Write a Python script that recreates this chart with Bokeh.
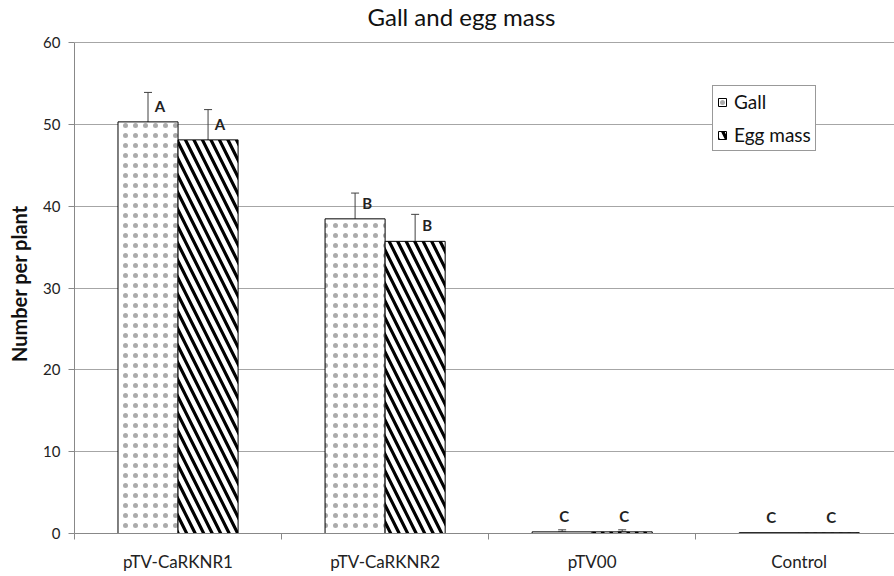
from bokeh.plotting import figure
from bokeh.models import ColumnDataSource, Whisker, FixedTicker, Range1d, TeeHead
from bokeh.core.properties import value
from bokeh.embed import file_html
from bokeh.resources import INLINE

# ---- data ----
categories = ["pTV-CaRKNR1", "pTV-CaRKNR2", "pTV00", "Control"]
gall = [50.3, 38.45, 0.2, 0.1]
gall_low = [44.9, 33.8, 0.2, 0.1]
gall_high = [53.9, 41.6, 0.45, 0.1]
egg = [48.1, 35.7, 0.2, 0.1]
egg_low = [44.9, 30.1, 0.2, 0.1]
egg_high = [51.8, 39.0, 0.45, 0.1]
gall_letters = ["A", "B", "C", "C"]
egg_letters = ["A", "B", "C", "C"]
y_ticks = [0, 10, 20, 30, 40, 50, 60]

FONT = "Lato"
BAR_W = 0.29
SHIFT = 0.145

centers = list(range(1, len(categories) + 1))
gall_x = [c - SHIFT for c in centers]
egg_x = [c + SHIFT for c in centers]

p = figure(width=894, height=576, output_backend="svg", toolbar_location=None,
           x_range=Range1d(0.5, 0.5 + 3.96), y_range=Range1d(0, 61.1),
           min_border_left=74, min_border_right=0, min_border_top=0,
           min_border_bottom=43, title="Gall and egg mass")
p.outline_line_color = None
p.background_fill_color = "white"

p.title.align = "left"
p.title.offset = 293
p.title.vertical_align = "top"
p.title.standoff = 2
p.title.text_font = FONT
p.title.text_font_size = "24px"
p.title.text_font_style = "normal"
p.title.text_color = "#111111"

# bars
p.vbar(x=gall_x, top=gall, bottom=0, width=BAR_W, fill_color="white",
       line_color="black", line_width=1, hatch_pattern="dot", hatch_color="#ababab",
       hatch_scale=10, hatch_weight=0.5, legend_label="Gall")
p.vbar(x=egg_x, top=egg, bottom=0, width=BAR_W, fill_color="white",
       line_color="black", line_width=1, hatch_pattern="left_diagonal_line",
       hatch_color="black", hatch_scale=17, hatch_weight=3.2, legend_label="Egg mass")

# error bars (only where they have length)
ex, elo, ehi = [], [], []
for xs, lo, hi in ((gall_x, gall_low, gall_high), (egg_x, egg_low, egg_high)):
    for x, l, h in zip(xs, lo, hi):
        if h > l:
            ex.append(x); elo.append(l); ehi.append(h)
err_src = ColumnDataSource(data=dict(x=ex, lower=elo, upper=ehi))
p.add_layout(Whisker(source=err_src, base="x", lower="lower", upper="upper",
                     line_color="#404040", line_width=1,
                     upper_head=TeeHead(size=8, line_color="#404040", line_width=1),
                     lower_head=TeeHead(size=8, line_color="#404040", line_width=1)))

# significance letters
lx, ly, lt, lo_ = [], [], [], []
for xs, vals, lo, hi, letters in ((gall_x, gall, gall_low, gall_high, gall_letters),
                                  (egg_x, egg, egg_low, egg_high, egg_letters)):
    for x, v, l, h, t in zip(xs, vals, lo, hi, letters):
        lx.append(x); ly.append(v); lt.append(t)
        lo_.append(12 if (h - l) > 1 else 2)
p.text(x=lx, y=ly, text=lt, x_offset=lo_, y_offset=-7, text_align="center",
       text_baseline="bottom", text_font=value(FONT), text_font_style="bold",
       text_font_size="15px", text_color="#222222")

# axes
p.xgrid.visible = False
p.ygrid.grid_line_color = "#a6a6a6"
p.ygrid.ticker = FixedTicker(ticks=y_ticks)

xa = p.xaxis[0]
xa.ticker = FixedTicker(ticks=centers, minor_ticks=[c - 0.5 for c in centers])
xa.major_label_overrides = {c: name for c, name in zip(centers, categories)}
xa.major_tick_line_color = None
xa.major_tick_out = 0
xa.major_tick_in = 0
xa.minor_tick_out = 6
xa.minor_tick_in = 0
xa.minor_tick_line_color = "#888888"
xa.axis_line_color = "#888888"
xa.major_label_standoff = 11
xa.major_label_text_font = FONT
xa.major_label_text_font_size = "17px"
xa.major_label_text_color = "#222222"

ya = p.yaxis[0]
ya.ticker = FixedTicker(ticks=y_ticks)
ya.bounds = (0, 60)
ya.minor_tick_line_color = None
ya.major_tick_out = 6
ya.major_tick_in = 0
ya.major_tick_line_color = "#888888"
ya.axis_line_color = "#888888"
ya.major_label_standoff = 8
ya.major_label_text_font = FONT
ya.major_label_text_font_size = "15px"
ya.major_label_text_color = "#222222"
ya.axis_label = "Number per plant"
ya.axis_label_text_font = FONT
ya.axis_label_text_font_size = "20px"
ya.axis_label_text_font_style = "bold"
ya.axis_label_text_color = "#111111"
ya.axis_label_standoff = 9

# legend
lg = p.legend[0]
lg.location = (638, 382)
lg.label_text_font = FONT
lg.label_text_font_size = "19px"
lg.label_text_color = "#111111"
lg.border_line_color = "#333333"
lg.border_line_width = 1
lg.padding = 4
lg.spacing = 10
lg.glyph_width = 10
lg.glyph_height = 10
lg.label_standoff = 7
lg.margin = 0
lg.background_fill_alpha = 1

open("out.html", "w").write(file_html(p, INLINE))
